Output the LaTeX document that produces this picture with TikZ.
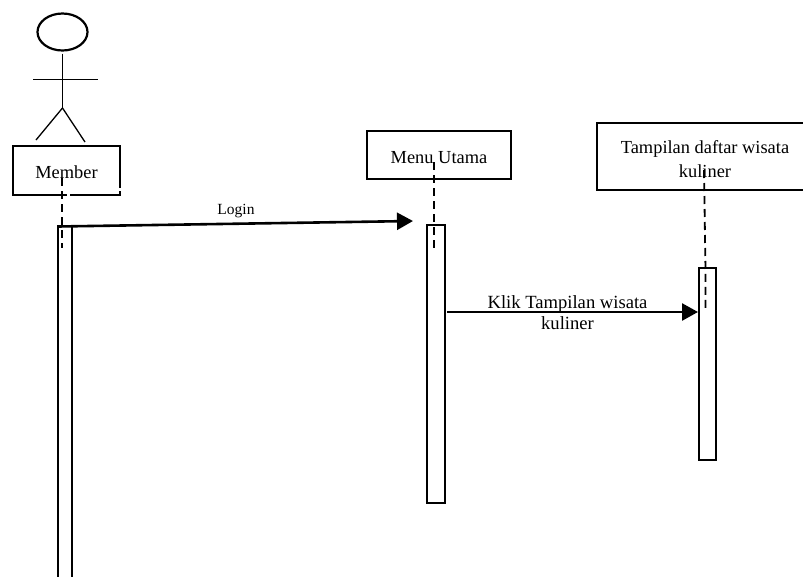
\documentclass[tikz,border=0pt]{standalone}
\usepackage{fontspec}
\setmainfont{Liberation Serif}
\usetikzlibrary{arrows.meta,shapes.geometric}
\tikzset{
  x=1pt,y=-1pt,
  objbox/.style={draw=black,line width=2.5pt,fill=white,align=center,inner sep=0pt,font=\fontsize{18.4}{24}\selectfont},
  actbox/.style={draw=black,line width=2.5pt,fill=white,inner sep=0pt},
  life/.style={draw=black,line width=1.8pt,dash pattern=on 8pt off 5pt},
  msg/.style={draw=black,line width=2.6pt,-{Triangle[length=16pt,width=17pt]},shorten >=0pt},
  limb/.style={draw=black,line width=1.3pt},
  gap/.style={draw=white,line width=3pt},
  msglabel/.style={inner sep=0pt,align=center}
}
\begin{document}
\begin{tikzpicture}
\useasboundingbox (0,0) rectangle (803,576);
\clip (0,0) rectangle (803,576);
% actor
\node[draw=black,line width=2.2pt,ellipse,minimum width=50pt,minimum height=37pt,inner sep=0pt] (head) at (62.5,32) {};
\coordinate (hip) at (62.5,108);
\coordinate (armL) at (33,79.5);
\coordinate (armR) at (98,79.5);
\coordinate (footL) at (36,140);
\coordinate (footR) at (85,142);
\draw[limb] (head.south) ++(0,2) -- (hip);
\draw[limb] (armL) -- (armR);
\draw[limb] (hip) -- (footL);
\draw[limb] (hip) -- (footR);
% object boxes
\node[objbox,minimum width=107pt,minimum height=49pt] (member) at (66.5,170.5) {\rule{0pt}{17pt}Member};
\node[objbox,minimum width=144pt,minimum height=48pt] (menu) at (439,155) {\rule{0pt}{17pt}Menu Utama};
\node[objbox,minimum width=216pt,minimum height=67pt] (tampil) at (705,156.5) {\rule{0pt}{19pt}Tampilan daftar wisata\\kuliner};
% activation bars
\node[actbox,minimum width=14pt,minimum height=374pt] (actM) at (65,413) {};
\node[actbox,minimum width=18pt,minimum height=278pt] (actU) at (436,364) {};
\node[actbox,minimum width=17pt,minimum height=192pt] (actT) at (707.5,364) {};
% breaks in the box outlines
\coordinate (g1a) at (66.5,195);
\coordinate (g1b) at (69.5,195);
\coordinate (g2a) at (120,188);
\coordinate (g2b) at (120,191);
\draw[gap] (g1a) -- (g1b);
\draw[gap] (g2a) -- (g2b);
% lifelines
\coordinate (lmS) at (62,178);
\coordinate (lmE) at (62,248);
\coordinate (luS) at (434,162);
\coordinate (luE) at (434,249);
\coordinate (ltS) at (704,170);
\coordinate (ltM) at (705.5,270);
\coordinate (ltE) at (705.5,312);
\draw[life] (lmS) -- (lmE);
\draw[life] (luS) -- (luE);
\draw[life] (ltS) -- (ltM) -- (ltE);
% messages
\coordinate (loginS) at (58,226.5);
\coordinate (loginE) at (413,221);
\coordinate (klikS) at (447,312);
\coordinate (klikE) at (698,312);
\draw[msg] (loginS) -- (loginE);
\draw[msg] (klikS) -- (klikE);
\node[msglabel,font=\fontsize{15.5}{18}\selectfont] (loginL) at (236,211) {Login};
\node[msglabel,font=\fontsize{18.6}{21}\selectfont] (klikL) at (567.5,313) {Klik Tampilan wisata\\kuliner};
\end{tikzpicture}
\end{document}
